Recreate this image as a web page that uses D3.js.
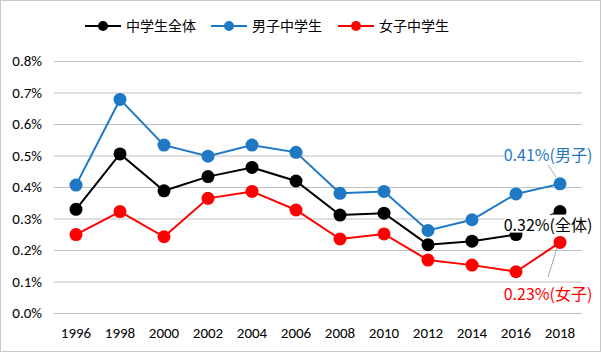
<!DOCTYPE html>
<html>
<head>
<meta charset="utf-8">
<script src="https://cdn.jsdelivr.net/npm/d3@7"></script>
<style>
  html, body { margin: 0; padding: 0; background: #fff; }
  svg { display: block; }
</style>
</head>
<body>
<svg id="chart" width="601" height="352"></svg>
<script>
const width = 601;
const height = 352;

// data (in %)
const years = ['1996','1998','2000','2002','2004','2006','2008','2010','2012','2014','2016','2018'];
const allStudents = [0.329, 0.505, 0.388, 0.433, 0.462, 0.419, 0.311, 0.317, 0.217, 0.228, 0.249, 0.322];
const boys        = [0.406, 0.678, 0.533, 0.498, 0.533, 0.510, 0.380, 0.386, 0.262, 0.296, 0.378, 0.410];
const girls       = [0.249, 0.322, 0.242, 0.364, 0.386, 0.327, 0.235, 0.251, 0.168, 0.152, 0.131, 0.224];
const yTicks = [0, 0.1, 0.2, 0.3, 0.4, 0.5, 0.6, 0.7, 0.8];

const series = [
  { name: '中学生全体', color: '#000000', values: allStudents, label: '0.32%(全体)' },
  { name: '男子中学生', color: '#1f78c4', values: boys, label: '0.41%(男子)' },
  { name: '女子中学生', color: '#ff0000', values: girls, label: '0.23%(女子)' }
];

const svg = d3.select('#chart');
const latin = 'Carlito, Calibri, "Liberation Sans", Arial, sans-serif';
const cjk = '"Noto Sans CJK JP", sans-serif';

// outer border
svg.append('rect')
  .attr('x', 0.5).attr('y', 0.5)
  .attr('width', width - 1).attr('height', height - 1)
  .attr('fill', '#fff').attr('stroke', '#c8c8c8');

const margin = { left: 54, right: 19, top: 61, bottom: 39 };
const x = d3.scaleBand().domain(years).range([margin.left, width - margin.right]);
const y = d3.scaleLinear().domain([0, 0.8]).range([313, 61]);

// grid lines
svg.append('g').selectAll('line').data(yTicks).join('line')
  .attr('x1', margin.left).attr('x2', width - margin.right)
  .attr('y1', d => y(d) + 0.5).attr('y2', d => y(d) + 0.5)
  .attr('stroke', '#c0c0c0').attr('stroke-width', 1);

// y labels
svg.append('g').selectAll('text').data(yTicks).join('text')
  .attr('x', 42).attr('y', d => y(d))
  .attr('dy', '0.35em')
  .attr('text-anchor', 'end')
  .attr('font-family', latin).attr('font-size', 15).attr('fill', '#000')
  .text(d => d3.format('.1%')(d / 100));

// x labels
svg.append('g').selectAll('text').data(years).join('text')
  .attr('x', d => x(d) + x.bandwidth() / 2).attr('y', 333)
  .attr('dy', '0.35em')
  .attr('text-anchor', 'middle')
  .attr('font-family', latin).attr('font-size', 15).attr('fill', '#000')
  .text(d => d);

const line = d3.line()
  .x((d, i) => x(years[i]) + x.bandwidth() / 2)
  .y(d => y(d));

// draw order: girls, boys, all
const drawOrder = [series[2], series[1], series[0]];
drawOrder.forEach(s => {
  const g = svg.append('g');
  g.append('path')
    .attr('d', line(s.values))
    .attr('fill', 'none').attr('stroke', s.color).attr('stroke-width', 2);
  g.selectAll('circle').data(s.values).join('circle')
    .attr('cx', (d, i) => x(years[i]) + x.bandwidth() / 2)
    .attr('cy', d => y(d))
    .attr('r', 6.5)
    .attr('fill', s.color);
});

// data labels at 2018
const labelPos = [
  { s: series[1], lx: 548, ly: 155, leader: [[548, 165], [556, 177]], lc: '#a6a6a6' },
  { s: series[0], lx: 548, ly: 225, leader: [[550, 215], [556, 212]], lc: '#000' },
  { s: series[2], lx: 548, ly: 294, leader: [[548, 277], [557, 248]], lc: '#a6a6a6' }
];
labelPos.forEach(p => {
  const t = svg.append('text')
    .attr('x', p.lx).attr('y', p.ly)
    .attr('dy', '0.35em')
    .attr('text-anchor', 'middle')
    .attr('font-family', cjk).attr('font-size', 16)
    .attr('fill', p.s.color)
    .text(p.s.label);
  const bb = t.node().getBBox();
  svg.insert('rect', () => t.node())
    .attr('x', bb.x).attr('y', bb.y + 3).attr('width', bb.width).attr('height', bb.height - 6)
    .attr('fill', '#fff');
  svg.append('line')
    .attr('x1', p.leader[0][0]).attr('y1', p.leader[0][1])
    .attr('x2', p.leader[1][0]).attr('y2', p.leader[1][1])
    .attr('stroke', p.lc).attr('stroke-width', 1);
});

// legend
const legendX = [85, 211, 338];
const legend = svg.append('g');
series.forEach((s, i) => {
  const lx = legendX[i];
  legend.append('line')
    .attr('x1', lx).attr('x2', lx + 36).attr('y1', 26).attr('y2', 26)
    .attr('stroke', s.color).attr('stroke-width', 2);
  legend.append('circle')
    .attr('cx', lx + 18).attr('cy', 26).attr('r', 5).attr('fill', s.color);
  legend.append('text')
    .attr('x', lx + 41).attr('y', 26).attr('dy', '0.35em')
    .attr('font-family', cjk).attr('font-size', 14).attr('fill', '#000')
    .text(s.name);
});
</script>
</body>
</html>
